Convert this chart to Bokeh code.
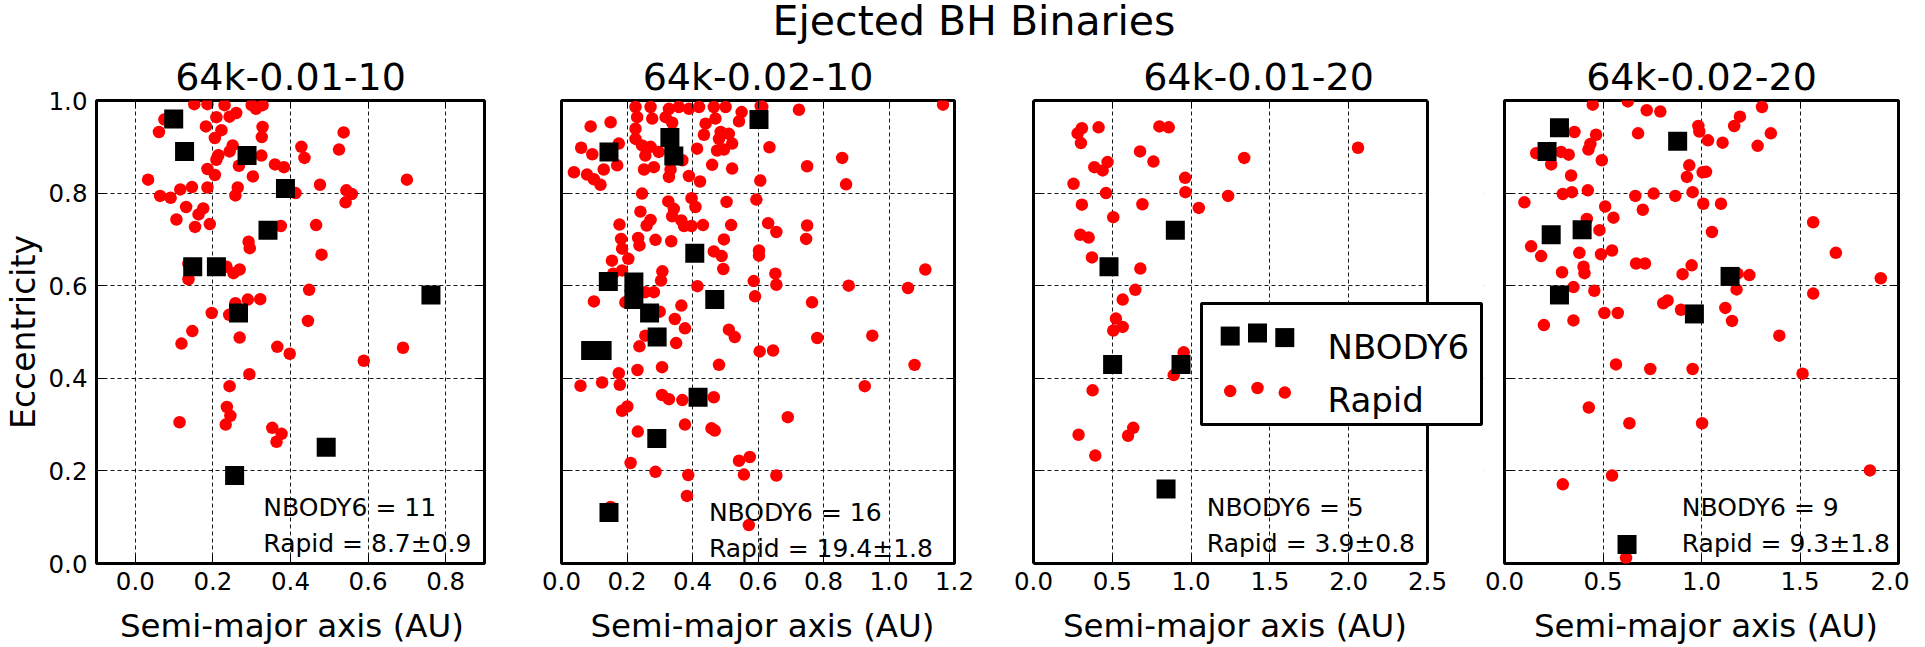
from bokeh.plotting import figure
from bokeh.layouts import row, column
from bokeh.models import (FixedTicker, PrintfTickFormatter, LinearAxis, Label,
                          BoxAnnotation, Div, Range1d, Span)
from bokeh.embed import file_html
from bokeh.resources import INLINE

FONT = "DejaVu Sans"

# ---------------- data ----------------
main_title = "Ejected BH Binaries"
panel_titles = ["64k-0.01-10", "64k-0.02-10", "64k-0.01-20", "64k-0.02-20"]
x_label = "Semi-major axis (AU)"
y_label = "Eccentricity"
legend_labels = ["NBODY6", "Rapid"]
x_limits = [(-0.1, 0.9), (0.0, 1.2), (0.0, 2.5), (0.0, 2.0)]
x_tick_values = [[0.0, 0.2, 0.4, 0.6, 0.8],
                 [0.0, 0.2, 0.4, 0.6, 0.8, 1.0, 1.2],
                 [0.0, 0.5, 1.0, 1.5, 2.0, 2.5],
                 [0.0, 0.5, 1.0, 1.5, 2.0]]
y_tick_values = [0.0, 0.2, 0.4, 0.6, 0.8, 1.0]
nbody_count = [11, 16, 5, 9]
rapid_mean = [8.7, 19.4, 3.9, 9.3]
rapid_err = [0.9, 1.8, 0.8, 1.8]

# panel 1 : 64k-0.01-10
nbody_a_1 = [0.099, 0.127, 0.288, 0.387, 0.342, 0.148, 0.209, 0.266, 0.762, 0.492, 0.256]
nbody_e_1 = [0.960, 0.890, 0.881, 0.810, 0.720, 0.641, 0.641, 0.541, 0.580, 0.251, 0.190]
rapid_a_1 = [0.152, 0.186, 0.230, 0.300, 0.328, 0.311, 0.075, 0.061, 0.182, 0.209, 0.243, 0.260,
             0.222, 0.205, 0.328, 0.326, 0.537, 0.251, 0.243, 0.428, 0.436, 0.525, 0.214, 0.209,
             0.325, 0.360, 0.383, 0.267, 0.186, 0.205, 0.303, 0.033, 0.700, 0.476, 0.146, 0.116,
             0.186, 0.264, 0.258, 0.064, 0.091, 0.413, 0.544, 0.558, 0.542, 0.131, 0.175, 0.163,
             0.106, 0.192, 0.154, 0.375, 0.466, 0.292, 0.295, 0.480, 0.137, 0.235, 0.253, 0.269,
             0.137, 0.448, 0.258, 0.290, 0.322, 0.197, 0.242, 0.445, 0.147, 0.119, 0.269, 0.366,
             0.398, 0.690, 0.589, 0.294, 0.243, 0.236, 0.245, 0.233, 0.114, 0.353, 0.377, 0.364]
rapid_e_1 = [0.992, 0.992, 0.990, 0.990, 0.990, 0.982, 0.959, 0.932, 0.944, 0.964, 0.965, 0.973,
             0.936, 0.919, 0.943, 0.921, 0.931, 0.903, 0.890, 0.900, 0.876, 0.894, 0.882, 0.872,
             0.881, 0.862, 0.856, 0.859, 0.852, 0.839, 0.836, 0.829, 0.829, 0.818, 0.813, 0.808,
             0.812, 0.812, 0.795, 0.794, 0.790, 0.800, 0.806, 0.798, 0.780, 0.770, 0.767, 0.754,
             0.743, 0.733, 0.727, 0.729, 0.731, 0.695, 0.681, 0.667, 0.647, 0.641, 0.627, 0.635,
             0.614, 0.591, 0.562, 0.570, 0.571, 0.541, 0.537, 0.524, 0.502, 0.475, 0.488, 0.468,
             0.453, 0.466, 0.438, 0.409, 0.383, 0.338, 0.319, 0.300, 0.305, 0.293, 0.280, 0.263]

# panel 2 : 64k-0.02-10
nbody_a_2 = [0.603, 0.331, 0.343, 0.145, 0.407, 0.143, 0.221, 0.221, 0.468, 0.269, 0.292,
             0.089, 0.124, 0.417, 0.291, 0.145]
nbody_e_2 = [0.959, 0.920, 0.880, 0.889, 0.670, 0.609, 0.608, 0.570, 0.570, 0.541, 0.489,
             0.460, 0.460, 0.359, 0.270, 0.110]
rapid_a_2 = [0.226, 0.272, 0.328, 0.358, 0.389, 0.420, 0.465, 0.501, 0.550, 0.613, 0.231, 0.277,
             0.318, 0.338, 0.440, 0.470, 0.542, 0.150, 0.089, 0.226, 0.226, 0.246, 0.272, 0.297,
             0.256, 0.435, 0.486, 0.511, 0.481, 0.496, 0.475, 0.521, 0.414, 0.369, 0.060, 0.094,
             0.175, 0.170, 0.129, 0.038, 0.078, 0.099, 0.119, 0.252, 0.282, 0.333, 0.328, 0.389,
             0.423, 0.460, 0.521, 0.246, 0.326, 0.343, 0.397, 0.409, 0.504, 0.241, 0.272, 0.260,
             0.338, 0.366, 0.374, 0.397, 0.432, 0.518, 0.177, 0.182, 0.234, 0.238, 0.287, 0.335,
             0.496, 0.185, 0.204, 0.154, 0.465, 0.489, 0.494, 0.308, 0.304, 0.185, 0.158, 0.256,
             0.282, 0.415, 0.099, 0.195, 0.300, 0.366, 0.346, 0.377, 0.511, 0.529, 0.256, 0.238,
             0.350, 0.175, 0.232, 0.307, 0.481,
             0.608, 0.725, 1.165, 0.635, 0.750, 0.857, 0.869, 0.607, 0.595, 0.631, 0.656, 0.750,
             0.747, 0.603, 0.603, 1.111, 0.653, 0.587, 0.656, 0.877, 1.058, 0.591, 0.765, 0.781,
             0.949, 0.605, 0.646, 1.078,
             0.058, 0.124, 0.178, 0.926, 0.307, 0.328, 0.369, 0.465, 0.185, 0.201, 0.691, 0.233,
             0.377, 0.458, 0.468, 0.211, 0.287, 0.387, 0.542, 0.575, 0.557, 0.656, 0.383, 0.572,
             0.150]
rapid_e_2 = [0.986, 0.986, 0.982, 0.986, 0.982, 0.986, 0.986, 0.986, 0.975, 0.986, 0.964, 0.961,
             0.964, 0.952, 0.950, 0.961, 0.955, 0.953, 0.944, 0.939, 0.917, 0.903, 0.900, 0.889,
             0.881, 0.926, 0.932, 0.928, 0.917, 0.894, 0.892, 0.907, 0.896, 0.871, 0.898, 0.884,
             0.907, 0.860, 0.851, 0.845, 0.840, 0.830, 0.818, 0.851, 0.856, 0.851, 0.835, 0.837,
             0.825, 0.861, 0.853, 0.799, 0.782, 0.766, 0.789, 0.770, 0.781, 0.760, 0.742, 0.730,
             0.750, 0.741, 0.729, 0.729, 0.731, 0.731, 0.732, 0.701, 0.703, 0.687, 0.699, 0.696,
             0.700, 0.680, 0.658, 0.654, 0.674, 0.664, 0.636, 0.631, 0.611, 0.633, 0.626, 0.586,
             0.586, 0.599, 0.566, 0.564, 0.544, 0.557, 0.528, 0.508, 0.505, 0.489, 0.492, 0.469,
             0.476, 0.411, 0.418, 0.424, 0.429,
             0.988, 0.980, 0.991, 0.899, 0.858, 0.876, 0.819, 0.827, 0.786, 0.735, 0.716, 0.730,
             0.701, 0.676, 0.665, 0.635, 0.626, 0.610, 0.602, 0.600, 0.595, 0.577, 0.564, 0.487,
             0.492, 0.458, 0.460, 0.429,
             0.384, 0.391, 0.386, 0.383, 0.364, 0.355, 0.353, 0.359, 0.330, 0.339, 0.316, 0.285,
             0.300, 0.292, 0.287, 0.217, 0.198, 0.191, 0.222, 0.230, 0.192, 0.190, 0.146, 0.083,
             0.122]

# panel 3 : 64k-0.01-20
nbody_a_3 = [0.900, 0.479, 0.502, 0.936, 0.841]
nbody_e_3 = [0.720, 0.641, 0.430, 0.430, 0.161]
rapid_a_3 = [0.307, 0.280, 0.301, 0.413, 0.799, 0.858, 0.676, 0.761, 1.337, 2.059, 0.386, 0.470,
             0.439, 0.962, 0.254, 0.460, 0.964, 1.235, 0.307, 0.691, 1.049, 0.506, 0.297, 0.350,
             0.371, 0.678, 0.646, 0.566, 0.523, 0.566, 0.506, 0.953, 0.890, 0.375, 0.633, 0.600,
             0.286, 0.392]
rapid_e_3 = [0.940, 0.929, 0.908, 0.942, 0.944, 0.942, 0.890, 0.868, 0.876, 0.898, 0.856, 0.867,
             0.849, 0.833, 0.820, 0.800, 0.802, 0.794, 0.775, 0.776, 0.768, 0.748, 0.710, 0.704,
             0.661, 0.637, 0.591, 0.570, 0.529, 0.511, 0.503, 0.456, 0.407, 0.374, 0.293, 0.276,
             0.278, 0.233]

# panel 4 : 64k-0.02-20
nbody_a_4 = [0.279, 0.216, 0.879, 0.237, 0.394, 1.145, 0.279, 0.964, 0.622]
nbody_e_4 = [0.941, 0.890, 0.912, 0.710, 0.721, 0.620, 0.580, 0.539, 0.041]
rapid_a_4 = [0.448, 0.626, 0.722, 0.791, 1.307, 1.195, 1.166, 0.984, 0.989, 1.352, 0.678, 0.355,
             0.465, 0.436, 0.426, 0.161, 0.287, 0.326, 0.237, 0.494, 1.033, 1.107, 1.285, 0.938,
             0.926, 1.006, 1.023, 0.338, 0.296, 0.342, 0.423, 0.664, 0.757, 0.867, 0.955, 0.101,
             0.511, 0.702, 1.009, 1.099, 0.553, 0.418, 0.482, 1.053, 1.567, 0.135, 0.186, 0.380,
             0.490, 0.546, 0.668, 0.713, 1.682, 0.401, 0.406, 0.292, 0.950, 0.904, 1.243, 1.183,
             1.910, 0.350, 0.456, 1.178, 1.567, 0.806, 0.828, 0.896, 1.121, 0.507, 0.575, 1.155,
             0.350, 0.200, 1.395, 0.566, 0.740, 0.955, 1.513, 0.428, 0.634, 1.003, 1.855, 0.546,
             0.296, 0.617]
rapid_e_4 = [0.991, 0.998, 0.979, 0.976, 0.986, 0.965, 0.945, 0.945, 0.933, 0.929, 0.929, 0.932,
             0.926, 0.906, 0.894, 0.886, 0.889, 0.883, 0.862, 0.871, 0.914, 0.909, 0.902, 0.860,
             0.835, 0.845, 0.846, 0.838, 0.798, 0.802, 0.806, 0.794, 0.799, 0.794, 0.802, 0.780,
             0.771, 0.764, 0.777, 0.777, 0.747, 0.744, 0.720, 0.716, 0.737, 0.685, 0.664, 0.671,
             0.668, 0.676, 0.648, 0.648, 0.671, 0.641, 0.627, 0.629, 0.644, 0.625, 0.623, 0.626,
             0.616, 0.597, 0.589, 0.592, 0.583, 0.562, 0.568, 0.548, 0.552, 0.541, 0.541, 0.524,
             0.525, 0.515, 0.492, 0.430, 0.420, 0.420, 0.410, 0.337, 0.303, 0.303, 0.201, 0.190,
             0.171, 0.012]

nbody_a = [nbody_a_1, nbody_a_2, nbody_a_3, nbody_a_4]
nbody_e = [nbody_e_1, nbody_e_2, nbody_e_3, nbody_e_4]
rapid_a = [rapid_a_1, rapid_a_2, rapid_a_3, rapid_a_4]
rapid_e = [rapid_e_1, rapid_e_2, rapid_e_3, rapid_e_4]

# ---------------- layout / style ----------------
PAGE_W = 1909
TOP_DIV_H = 40
FIG_H = 556
BOT_DIV_H = 35

FIG_W = [520, 474, 490, 425]
VIS_L = [90, 41, 39, 20]        # border left of the visible panel box
VIS_W = [394, 393, 394, 394]    # visible panel box width
VIS_T = 50                      # border above the panel box (holds the panel title)
VIS_H = 463
EXTRA_R = [0, 0, 56, 0]         # extra frame width right of the box (panel 3 hosts the legend)

PANEL_CX = [287, 757.5, 1230, 1701]       # div-local centres of the panels

NOTE_X = [0.33, 0.45, 1.10, 0.90]
NOTE_Y1 = [0.12, 0.11, 0.12, 0.12]
NOTE_Y2 = [0.044, 0.032, 0.044, 0.044]

RED = "#ff0000"
SQ_SIZE = 19
CI_SIZE = 12.5
TICK_FS = "24.5px"
NOTE_FS = "25px"
LEGEND_FS = "34px"
SUBTITLE_FS = "38px"
AXLABEL_FS = 33

# legend geometry (pixels relative to the panel-3 box, bottom-left origin)
LEG_PANEL = 2
LEG_BOX = (168, 448, 139, 260)          # left, right, bottom, top
LEG_MARK_X = [196.7, 224.0, 251.3]
LEG_ROW_BOTTOM = [218.25, 163.25]
LEG_YOFF = [0.375, 0.5, 0.3125]
LEG_ROW_H = 24.5
LEG_TEXT_X = 294
LEG_TEXT_BASE = [217.0, 163.7]


def style_axis(ax, ticks, show_labels):
    ax.ticker = FixedTicker(ticks=ticks, minor_ticks=[])
    ax.formatter = PrintfTickFormatter(format="%.1f")
    ax.axis_line_color = None
    ax.major_tick_line_color = "black"
    ax.major_tick_line_width = 1
    ax.major_tick_in = 8
    ax.major_tick_out = 0
    ax.minor_tick_line_color = None
    ax.major_label_text_font = FONT
    ax.major_label_standoff = 0
    if show_labels:
        ax.major_label_text_font_size = TICK_FS
        ax.major_label_text_color = "black"
    else:
        ax.major_label_text_font_size = "1px"
        ax.major_label_text_color = None


def frame_line(ax, bounds=None):
    ax.axis_line_color = "black"
    ax.axis_line_width = 3
    if bounds is not None:
        ax.bounds = bounds


figs = []
for i in range(4):
    x0, x1 = x_limits[i]
    extra = EXTRA_R[i]
    sx = (x1 - x0) / VIS_W[i]
    sy = 1.0 / VIS_H
    frame_w = VIS_W[i] + extra
    p = figure(width=FIG_W[i], height=FIG_H,
               x_range=Range1d(x0, x1 + extra * sx),
               y_range=Range1d(0.0, 1.0),
               output_backend="svg", toolbar_location=None, tools="",
               min_border_left=VIS_L[i],
               min_border_right=FIG_W[i] - VIS_L[i] - frame_w,
               min_border_top=VIS_T,
               min_border_bottom=FIG_H - VIS_T - VIS_H,
               background_fill_color="white", border_fill_color="white",
               outline_line_color=None if extra else "black", outline_line_width=3)

    p.title.text = panel_titles[i]
    p.title.align = "center"
    p.title.text_font = FONT
    p.title.text_font_size = SUBTITLE_FS
    p.title.text_font_style = "normal"
    p.title.text_color = "black"
    p.title.standoff = 3
    p.title.offset = -extra / 2.0

    bx = p.below[0]
    style_axis(bx, x_tick_values[i], True)
    bx.major_label_standoff = 8
    ly = p.left[0]
    style_axis(ly, y_tick_values, i == 0)
    ly.major_label_standoff = 9
    if i == 0:
        ly.axis_label = y_label
        ly.axis_label_text_font = FONT
        ly.axis_label_text_font_size = "%dpx" % AXLABEL_FS
        ly.axis_label_text_font_style = "normal"
        ly.axis_label_text_color = "black"
        ly.axis_label_standoff = 3
    top_ax = LinearAxis()
    style_axis(top_ax, x_tick_values[i], False)
    p.add_layout(top_ax, "above")
    if not extra:
        right_ax = LinearAxis()
        style_axis(right_ax, y_tick_values, False)
        p.add_layout(right_ax, "right")
    else:
        # draw the panel box edges with the axes (bounded to the panel) and a span
        frame_line(ly)
        frame_line(bx, (x0, x1))
        frame_line(top_ax, (x0, x1))

    p.xgrid.ticker = FixedTicker(ticks=x_tick_values[i], minor_ticks=[])
    p.ygrid.ticker = FixedTicker(ticks=y_tick_values, minor_ticks=[])
    for g in (p.xgrid, p.ygrid):
        g.grid_line_color = "black"
        g.grid_line_alpha = 0.9
        g.grid_line_width = 1
        g.grid_line_dash = "4 3"

    p.scatter(rapid_a[i], rapid_e[i], marker="circle", size=CI_SIZE,
              fill_color=RED, line_color=None)
    p.scatter(nbody_a[i], nbody_e[i], marker="square", size=SQ_SIZE,
              fill_color="black", line_color=None)

    p.add_layout(Label(x=NOTE_X[i], y=NOTE_Y1[i], text=f"NBODY6 = {nbody_count[i]}",
                       text_font=FONT, text_font_size=NOTE_FS, text_color="black",
                       text_align="left", text_baseline="alphabetic"))
    p.add_layout(Label(x=NOTE_X[i], y=NOTE_Y2[i],
                       text=f"Rapid = {rapid_mean[i]}\u00b1{rapid_err[i]}",
                       text_font=FONT, text_font_size=NOTE_FS, text_color="black",
                       text_align="left", text_baseline="alphabetic"))

    if extra:
        p.add_layout(BoxAnnotation(left=x1, fill_color="white", fill_alpha=1.0,
                                   line_color=None))
        p.add_layout(Span(location=x1, dimension="height", line_color="black",
                          line_width=3))

    if i == LEG_PANEL:
        def px2x(px):
            return x0 + px * sx

        def px2y(py):
            return py * sy

        l, r, b, t = LEG_BOX
        p.add_layout(BoxAnnotation(left=px2x(l), right=px2x(r), bottom=px2y(b), top=px2y(t),
                                   fill_color="white", fill_alpha=1.0,
                                   line_color="black", line_width=3, line_alpha=1.0))
        mx = [px2x(v) for v in LEG_MARK_X]
        sq_y = [px2y(LEG_ROW_BOTTOM[0] + o * LEG_ROW_H) for o in LEG_YOFF]
        ci_y = [px2y(LEG_ROW_BOTTOM[1] + o * LEG_ROW_H) for o in LEG_YOFF]
        p.scatter(mx, sq_y, marker="square", size=SQ_SIZE, fill_color="black",
                  line_color=None, level="overlay")
        p.scatter(mx, ci_y, marker="circle", size=CI_SIZE, fill_color=RED,
                  line_color=None, level="overlay")
        for k in range(2):
            p.add_layout(Label(x=px2x(LEG_TEXT_X), y=px2y(LEG_TEXT_BASE[k]),
                               text=legend_labels[k], text_font=FONT,
                               text_font_size=LEGEND_FS, text_color="black",
                               text_align="left", text_baseline="alphabetic",
                               level="overlay"))
    figs.append(p)


def abs_text(text, cx, top, fs, lh, w=700):
    return ("<div style=\"position:absolute;left:%.1fpx;top:%.1fpx;width:%dpx;"
            "text-align:center;font-family:'DejaVu Sans';font-size:%.1fpx;line-height:%dpx;"
            "white-space:nowrap;color:#000;\">%s</div>" % (cx - w / 2, top, w, fs, lh, text))


top_html = ("<div style=\"position:relative;width:%dpx;height:%dpx;\">" % (PAGE_W, TOP_DIV_H)
            + abs_text(main_title, 969, 0, 41, 32, 900)
            + "</div>")
bot_html = ("<div style=\"position:relative;width:%dpx;height:%dpx;\">" % (PAGE_W, BOT_DIV_H)
            + "".join(abs_text(x_label, PANEL_CX[i], 0, 32.5, 30, 440) for i in range(4))
            + "</div>")

top_div = Div(text=top_html, width=PAGE_W, height=TOP_DIV_H)
bot_div = Div(text=bot_html, width=PAGE_W, height=BOT_DIV_H)

layout = column(top_div, row(*figs, spacing=0), bot_div, spacing=0)

open("out.html", "w").write(file_html(layout, INLINE))
